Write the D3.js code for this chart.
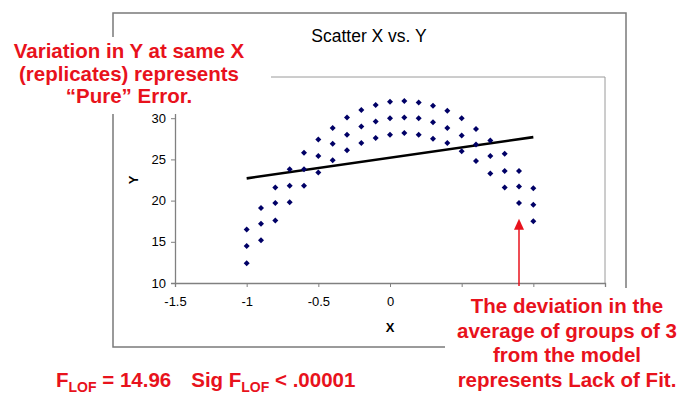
<!DOCTYPE html>
<html lang="en">
<head>
<meta charset="utf-8">
<title>Scatter X vs. Y - Lack of Fit</title>
<script src="https://cdn.jsdelivr.net/npm/d3@7"></script>
<style>
  body { margin: 0; background: #ffffff; font-family: Arial, "Liberation Sans", sans-serif; }
</style>
</head>
<body>
<script>
// data: 21 x levels, 3 replicates each
var xVals = [-1, -0.9, -0.8, -0.7, -0.6, -0.5, -0.4, -0.3, -0.2, -0.1, 0, 0.1, 0.2, 0.3, 0.4, 0.5, 0.6, 0.7, 0.8, 0.9, 1];
var yHigh = [16.5, 19.1, 21.6, 23.8, 25.8, 27.4, 28.8, 30.1, 31.0, 31.6, 32.0, 32.1, 31.9, 31.5, 30.9, 30.0, 28.7, 27.3, 25.7, 23.6, 21.5];
var yMid  = [14.5, 17.2, 19.7, 21.8, 23.8, 25.4, 26.9, 28.0, 29.0, 29.6, 30.0, 30.1, 30.0, 29.5, 28.8, 27.9, 26.8, 25.4, 23.6, 21.7, 19.5];
var yLow  = [12.4, 15.2, 17.6, 19.8, 21.8, 23.4, 24.9, 26.1, 27.0, 27.6, 28.0, 28.2, 28.0, 27.5, 27.0, 26.0, 24.8, 23.3, 21.6, 19.7, 17.5];

// straight-line model
var fitX = [-1, 1];
var fitY = [22.7, 27.7];

// axes (labels under the annotation boxes are not shown)
var xTicks = [-1.5, -1, -0.5, 0, 0.5, 1, 1.5];
var xLabels = ["-1.5", "-1", "-0.5", "0", "", "", ""];
var yTicks = [10, 15, 20, 25, 30, 35];
var yLabels = ["10", "15", "20", "25", "30", ""];

// annotations
var arrowAt = [0.9, 17.8];
var noteLeft = ["Variation in Y at same X", "(replicates) represents", "\u201cPure\u201d Error."];
var noteRight = ["The deviation in the", "average of groups of 3", "from the model", "represents Lack of Fit."];
var fValue = "14.96";
var sigValue = ".00001";

var w = 688, h = 399;
var red = "#e8121c";

var svg = d3.select("body").append("svg")
  .attr("width", w)
  .attr("height", h);

// outer chart frame
svg.append("rect")
  .attr("x", 113).attr("y", 13)
  .attr("width", 513).attr("height", 334)
  .attr("fill", "white")
  .attr("stroke", "#7a7a7a")
  .attr("stroke-width", 1.5);

svg.append("text")
  .attr("x", 369).attr("y", 42)
  .attr("text-anchor", "middle")
  .attr("font-size", "17.5px")
  .attr("fill", "#000")
  .text("Scatter X vs. Y");

var xScale = d3.scaleLinear().domain([-1.5, 1.5]).range([175, 605]);
var yScale = d3.scaleLinear().domain([10, 35]).range([283, 77]);

// plot area border (top and right)
svg.append("path")
  .attr("d", "M" + xScale(-1.5) + "," + yScale(35) + "H" + xScale(1.5) + "V" + yScale(10))
  .attr("fill", "none")
  .attr("stroke", "#9a9a9a")
  .attr("stroke-width", 1);

var xAxis = d3.axisBottom(xScale)
  .tickValues(xTicks)
  .tickSize(4)
  .tickPadding(10)
  .tickFormat(function(d, i) { return xLabels[i]; });

var yAxis = d3.axisLeft(yScale)
  .tickValues(yTicks)
  .tickSize(4)
  .tickPadding(5)
  .tickFormat(function(d, i) { return yLabels[i]; });

var gx = svg.append("g")
  .attr("transform", "translate(0," + yScale(10) + ")")
  .call(xAxis);
var gy = svg.append("g")
  .attr("transform", "translate(" + xScale(-1.5) + ",0)")
  .call(yAxis);

[gx, gy].forEach(function(g) {
  g.select(".domain").attr("stroke", "#808080").attr("stroke-width", 1.3);
  g.selectAll(".tick line").attr("stroke", "#808080");
  g.selectAll(".tick text")
    .attr("font-family", "Arial, 'Liberation Sans', sans-serif")
    .attr("font-size", "13px")
    .attr("fill", "#000");
});

// axis titles
svg.append("text")
  .attr("x", xScale(0)).attr("y", 332)
  .attr("text-anchor", "middle")
  .attr("font-size", "13px")
  .attr("font-weight", "bold")
  .text("X");

svg.append("text")
  .attr("transform", "translate(138," + yScale(22.5) + ") rotate(-90)")
  .attr("text-anchor", "middle")
  .attr("font-size", "13px")
  .attr("font-weight", "bold")
  .text("Y");

// fitted line
var line = d3.line()
  .x(function(d) { return xScale(d[0]); })
  .y(function(d) { return yScale(d[1]); });

svg.append("path")
  .datum(d3.zip(fitX, fitY))
  .attr("d", line)
  .attr("fill", "none")
  .attr("stroke", "#000")
  .attr("stroke-width", 2.6);

// points
var points = [];
[yHigh, yMid, yLow].forEach(function(series) {
  series.forEach(function(v, i) { points.push({ x: xVals[i], y: v }); });
});

var diamond = d3.symbol().type(d3.symbolSquare).size(18);

svg.selectAll("path.pt")
  .data(points)
  .enter()
  .append("path")
  .attr("class", "pt")
  .attr("d", diamond)
  .attr("transform", function(d) {
    return "translate(" + xScale(d.x) + "," + yScale(d.y) + ") rotate(45)";
  })
  .attr("fill", "#000066");

// white boxes behind the annotations
svg.append("rect")
  .attr("x", 0).attr("y", 37)
  .attr("width", 271).attr("height", 77)
  .attr("fill", "white");

svg.append("rect")
  .attr("x", 445).attr("y", 288)
  .attr("width", 243).attr("height", 111)
  .attr("fill", "white");

// arrow
var ax = xScale(arrowAt[0]);
var ay = yScale(arrowAt[1]);
svg.append("line")
  .attr("x1", ax).attr("x2", ax)
  .attr("y1", ay + 8).attr("y2", 286)
  .attr("stroke", red)
  .attr("stroke-width", 1.5);
svg.append("path")
  .attr("d", "M" + ax + "," + ay + "L" + (ax - 5) + "," + (ay + 11) + "L" + (ax + 5) + "," + (ay + 11) + "Z")
  .attr("fill", red);

// red text
svg.append("g")
  .selectAll("text")
  .data(noteLeft)
  .enter()
  .append("text")
  .attr("x", 129)
  .attr("y", function(d, i) { return 58 + i * 22.5; })
  .attr("text-anchor", "middle")
  .attr("font-size", "20.5px")
  .attr("font-weight", "bold")
  .attr("fill", red)
  .text(function(d) { return d; });

svg.append("g")
  .selectAll("text")
  .data(noteRight)
  .enter()
  .append("text")
  .attr("x", 567)
  .attr("y", function(d, i) { return 313 + i * 24.6; })
  .attr("text-anchor", "middle")
  .attr("font-size", "20.5px")
  .attr("font-weight", "bold")
  .attr("fill", red)
  .text(function(d) { return d; });

var ft = svg.append("text")
  .attr("x", 56).attr("y", 387)
  .attr("font-size", "20.5px")
  .attr("font-weight", "bold")
  .attr("fill", red);
ft.append("tspan").text("F");
ft.append("tspan").attr("font-size", "14px").attr("dy", 5).text("LOF");
ft.append("tspan").attr("dy", -5).text(" = " + fValue);
ft.append("tspan").attr("dx", 20).text("Sig F");
ft.append("tspan").attr("font-size", "14px").attr("dy", 5).text("LOF");
ft.append("tspan").attr("dy", -5).text(" < " + sigValue);
</script>
</body>
</html>
